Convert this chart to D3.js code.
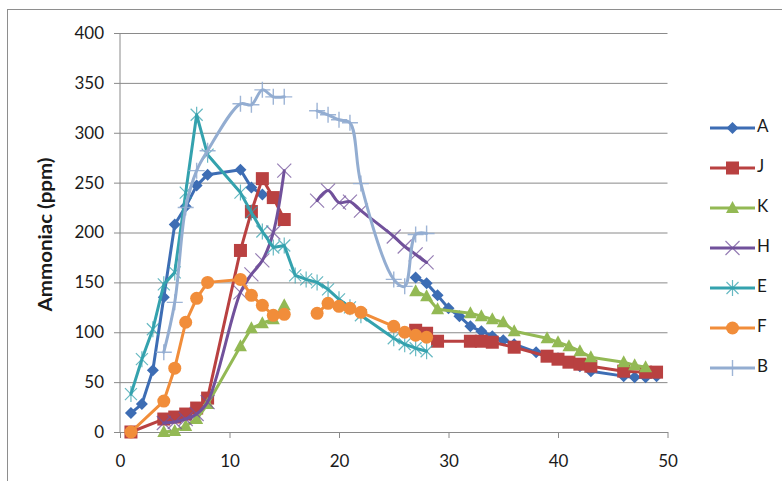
<!DOCTYPE html>
<html>
<head>
<meta charset="utf-8">
<script src="https://cdn.jsdelivr.net/npm/d3@7"></script>
<style>
  html, body { margin: 0; padding: 0; background: #ffffff; }
  svg { display: block; }
  text { font-family: Lato, "Open Sans", sans-serif; fill: #1a1a1a; }
</style>
</head>
<body>
<svg id="chart" width="782" height="481"></svg>
<script>
// Ammonia concentration (ppm) per day for each pen; a null ppm breaks the line.
const A = [[1,19],[2,28],[3,62],[4,135],[5,208],[6,226],[7,247],[8,258],[11,263],[12,245],[13,238],[14,null],
  [27,155],[28,149],[29,137],[30,124],[31,116],[32,106],[33,101],[34,96],[35,92],[36,88],[38,80],[40,74],
  [41,70],[42,66],[43,61],[46,56],[47,55],[48,55],[49,56]];
const J = [[1,0],[4,13],[5,15],[6,18],[7,24],[8,34],[11,182],[12,221],[13,254],[14,235],[15,213],[16,null],
  [27,102],[28,99],[29,91],[32,91],[33,91],[34,90],[36,85],[39,76],[40,73],[41,70],[42,68],[43,66],
  [46,61],[48,60],[49,60]];
const K = [[4,0],[5,1],[6,6],[7,13],[8,28],[11,86],[12,104],[13,109],[14,113],[15,127],[16,null],
  [27,141],[28,136],[29,123],[32,119],[33,116],[34,113],[35,110],[36,101],[39,94],[40,90],[41,86],
  [42,81],[43,75],[46,70],[47,67],[48,65]];
const H = [[4,9],[5,10],[6,13],[7,18],[8,30],[11,140],[12,158],[13,172],[14,200],[15,262],[16,null],
  [18,232],[19,242],[20,230],[21,231],[22,222],[25,196],[26,186],[27,178],[28,170]];
const E = [[1,38],[2,73],[3,103],[4,148],[5,160],[6,240],[7,318],[8,278],[11,240],[12,220],[13,201],
  [14,185],[15,187],[16,157],[17,153],[18,150],[19,143],[20,133],[21,125],[22,117],[25,94],[26,88],
  [27,84],[28,81]];
const F = [[1,0],[4,31],[5,64],[6,110],[7,134],[8,150],[11,153],[12,137],[13,127],[14,117],[15,118],[16,null],
  [18,119],[19,129],[20,126],[21,124],[22,120],[25,106],[26,100],[27,97],[28,95]];
const B = [[4,80],[5,130],[6,225],[7,262],[8,282],[11,329],[12,328],[13,343],[14,336],[15,336],[16,null],
  [18,322],[19,318],[20,313],[21,310],[22,249],[25,153],[26,146],[27,198],[28,199]];

const seriesNames = ["A", "J", "K", "H", "E", "F", "B"];
const seriesData = [A, J, K, H, E, F, B];
const seriesColors = ["#3d6db4", "#b94141", "#93b954", "#71519b", "#34a2ae", "#f18d3a", "#93add1"];
const seriesMarkers = ["diamond", "square", "triangle", "x", "star", "circle", "plus"];
const smoothed = ["B", "H"];

const xTicks = [0, 10, 20, 30, 40, 50];
const yTicks = [0, 50, 100, 150, 200, 250, 300, 350, 400];

const svg = d3.select("#chart");

// chart frame
svg.append("rect")
  .attr("x", 7.5).attr("y", 9.5).attr("width", 820).attr("height", 520)
  .attr("fill", "none").attr("stroke", "#8e8e8e").attr("stroke-width", 1);

const x = d3.scaleLinear().domain([0, 50]).range([120, 667.5]);
const y = d3.scaleLinear().domain([0, 400]).range([432, 33]);

// horizontal gridlines with left tick stubs
const gy = svg.append("g")
  .attr("transform", `translate(${x(0)},0)`)
  .call(d3.axisLeft(y).tickValues(yTicks).tickSize(-(x(50) - x(0))).tickPadding(14).tickSizeOuter(0));
gy.select(".domain").remove();
gy.selectAll(".tick line").attr("stroke", "#8a8a8a").attr("x1", -6);
gy.selectAll(".tick text").style("font-size", "17px").attr("fill", "#222").attr("dx", "-2");

// x axis
const gx = svg.append("g")
  .attr("transform", `translate(0,${y(0)})`)
  .call(d3.axisBottom(x).tickValues(xTicks).tickSize(6).tickPadding(17).tickSizeOuter(0));
gx.select(".domain").attr("stroke", "#8a8a8a");
gx.selectAll(".tick line").attr("stroke", "#8a8a8a");
gx.selectAll(".tick text").style("font-size", "17px").attr("fill", "#222");

// vertical axis line
svg.append("line")
  .attr("x1", x(0)).attr("x2", x(0)).attr("y1", y(400)).attr("y2", y(0))
  .attr("stroke", "#8a8a8a");

// y axis title
svg.append("text")
  .attr("transform", `translate(47,${(y(0) + y(400)) / 2 + 2}) rotate(-90)`)
  .attr("text-anchor", "middle").attr("dominant-baseline", "middle")
  .attr("textLength", 154).attr("lengthAdjust", "spacingAndGlyphs")
  .style("font-size", "18px").style("font-weight", "bold")
  .text("Ammoniac (ppm)");

function drawMarker(g, kind, color, px, py) {
  if (kind === "diamond") {
    g.append("path").attr("d", `M${px},${py - 6}L${px + 6},${py}L${px},${py + 6}L${px - 6},${py}Z`).attr("fill", color);
  } else if (kind === "square") {
    g.append("rect").attr("x", px - 6.5).attr("y", py - 6.5).attr("width", 13).attr("height", 13).attr("fill", color);
  } else if (kind === "triangle") {
    g.append("path").attr("d", `M${px},${py - 7}L${px + 6.5},${py + 5}L${px - 6.5},${py + 5}Z`).attr("fill", color);
  } else if (kind === "circle") {
    g.append("circle").attr("cx", px).attr("cy", py).attr("r", 6.5).attr("fill", color);
  } else if (kind === "x") {
    g.append("path").attr("d", `M${px - 7},${py - 7}L${px + 7},${py + 7}M${px - 7},${py + 7}L${px + 7},${py - 7}`)
      .attr("stroke", color).attr("stroke-width", 1.2).attr("opacity", 0.75).attr("fill", "none");
  } else if (kind === "star") {
    g.append("path").attr("d", `M${px - 6},${py - 6}L${px + 6},${py + 6}M${px - 6},${py + 6}L${px + 6},${py - 6}M${px},${py - 8}L${px},${py + 8}`)
      .attr("stroke", color).attr("stroke-width", 1.2).attr("opacity", 0.75).attr("fill", "none");
  } else if (kind === "plus") {
    g.append("path").attr("d", `M${px - 8},${py}L${px + 8},${py}M${px},${py - 8}L${px},${py + 8}`)
      .attr("stroke", color).attr("stroke-width", 1.4).attr("opacity", 0.9).attr("fill", "none");
  }
}

// series: line then markers, in legend order
seriesData.forEach((data, i) => {
  const name = seriesNames[i];
  const color = seriesColors[i];
  const g = svg.append("g");
  const line = d3.line()
    .defined(d => d[1] !== null)
    .x(d => x(d[0])).y(d => y(d[1]))
    .curve(smoothed.includes(name) ? d3.curveCatmullRom.alpha(0.5) : d3.curveLinear);
  g.append("path").datum(data).attr("d", line)
    .attr("fill", "none").attr("stroke", color).attr("stroke-width", 3)
    .attr("stroke-linejoin", "round").attr("stroke-linecap", "round");
  data.filter(d => d[1] !== null).forEach(d => drawMarker(g, seriesMarkers[i], color, x(d[0]), y(d[1])));
});

// legend
seriesNames.forEach((name, i) => {
  const ly = 128 + i * 40;
  const g = svg.append("g");
  g.append("line").attr("x1", 710).attr("x2", 755).attr("y1", ly).attr("y2", ly)
    .attr("stroke", seriesColors[i]).attr("stroke-width", 3);
  drawMarker(g, seriesMarkers[i], seriesColors[i], 732.5, ly);
  g.append("text").attr("x", 757).attr("y", ly).attr("dominant-baseline", "middle")
    .style("font-size", "17px").text(name);
});
</script>
</body>
</html>
